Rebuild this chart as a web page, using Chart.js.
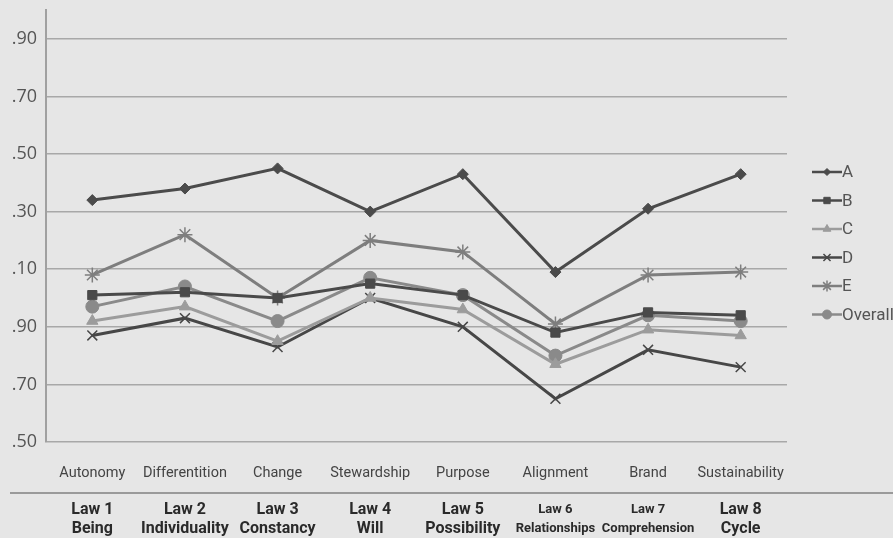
<!DOCTYPE html>
<html>
<head>
<meta charset="utf-8">
<script src="https://cdn.jsdelivr.net/npm/chart.js@4/dist/chart.umd.min.js"></script>
<style>
  html, body { margin: 0; padding: 0; background: #e6e6e6; }
  canvas { display: block; }
</style>
</head>
<body>
<canvas id="c" width="893" height="538"></canvas>
<script>
// Brand laws: attribute names and their law headings
const categories = ['Autonomy', 'Differentition', 'Change', 'Stewardship', 'Purpose', 'Alignment', 'Brand', 'Sustainability'];
const lawLabels = [
  ['Law 1', 'Being'], ['Law 2', 'Individuality'], ['Law 3', 'Constancy'], ['Law 4', 'Will'],
  ['Law 5', 'Possibility'], ['Law 6', 'Relationships'], ['Law 7', 'Comprehension'], ['Law 8', 'Cycle']
];

// Mean scores per group
const seriesA       = [3.34, 3.38, 3.45, 3.30, 3.43, 3.09, 3.31, 3.43];
const seriesB       = [3.01, 3.02, 3.00, 3.05, 3.01, 2.88, 2.95, 2.94];
const seriesC       = [2.92, 2.97, 2.85, 3.00, 2.96, 2.77, 2.89, 2.87];
const seriesD       = [2.87, 2.93, 2.83, 3.00, 2.90, 2.65, 2.82, 2.76];
const seriesE       = [3.08, 3.22, 3.00, 3.20, 3.16, 2.91, 3.08, 3.09];
const seriesOverall = [2.97, 3.04, 2.92, 3.07, 3.01, 2.80, 2.94, 2.92];

// Value-axis ticks
const yTickValues = [2.5, 2.7, 2.9, 3.1, 3.3, 3.5, 3.7, 3.9];

function series(label, data, color, pointStyle, radius, extra) {
  return Object.assign({
    label, data,
    borderColor: color,
    backgroundColor: color,
    pointBackgroundColor: color,
    pointBorderColor: color,
    borderWidth: 3,
    pointStyle,
    pointRadius: radius,
    pointHoverRadius: radius,
    pointBorderWidth: 1,
    tension: 0,
    xAxisID: 'x'
  }, extra || {});
}

const datasets = [
  series('A', seriesA, '#4b4b4b', 'rectRot', 5.5),
  series('B', seriesB, '#4a4a4a', 'rect', 6.5),
  series('C', seriesC, '#9c9c9c', 'triangle', 6.5),
  series('D', seriesD, '#474747', 'crossRot', 7, { pointBorderWidth: 1.5 }),
  series('E', seriesE, '#7e7e7e', 'star', 7.5, { pointBorderWidth: 1.5 }),
  series('Overall', seriesOverall, '#8a8a8a', 'circle', 6.5)
];

// Page background
const backgroundPlugin = {
  id: 'bg',
  beforeDraw(chart) {
    const ctx = chart.ctx;
    ctx.save();
    ctx.fillStyle = '#e6e6e6';
    ctx.fillRect(0, 0, chart.width, chart.height);
    ctx.restore();
  }
};

// Rule between the attribute names and the law headings
const separatorPlugin = {
  id: 'separator',
  afterDraw(chart) {
    const ctx = chart.ctx;
    const x2 = chart.scales.x2;
    ctx.save();
    ctx.strokeStyle = '#9a9a9a';
    ctx.lineWidth = 2;
    ctx.beginPath();
    ctx.moveTo(10, x2.top);
    ctx.lineTo(chart.width, x2.top);
    ctx.stroke();
    ctx.restore();
  }
};

// Legend with a line segment and marker per series
const lineLegendPlugin = {
  id: 'lineLegend',
  afterDraw(chart) {
    const ctx = chart.ctx;
    const x0 = chart.chartArea.right + 25;
    const lineLen = 30;
    const y0 = 172;
    const step = 28.5;
    ctx.save();
    chart.data.datasets.forEach((ds, i) => {
      const y = y0 + i * step;
      ctx.strokeStyle = ds.borderColor;
      ctx.lineWidth = 2.5;
      ctx.beginPath();
      ctx.moveTo(x0, y);
      ctx.lineTo(x0 + lineLen, y);
      ctx.stroke();
      ctx.fillStyle = ds.pointBackgroundColor;
      ctx.strokeStyle = ds.pointBorderColor;
      ctx.lineWidth = ds.pointBorderWidth;
      Chart.helpers.drawPoint(ctx, {
        pointStyle: ds.pointStyle,
        radius: Math.max(3.5, ds.pointRadius - 2),
        rotation: 0,
        borderWidth: ds.pointBorderWidth
      }, x0 + lineLen / 2, y);
      ctx.fillStyle = '#555555';
      ctx.font = '17px Roboto';
      ctx.textAlign = 'left';
      ctx.textBaseline = 'middle';
      ctx.fillText(ds.label, x0 + lineLen, y + 1);
    });
    ctx.restore();
  }
};

new Chart(document.getElementById('c'), {
  type: 'line',
  data: { labels: categories, datasets },
  plugins: [backgroundPlugin, separatorPlugin, lineLegendPlugin],
  options: {
    responsive: false,
    animation: false,
    devicePixelRatio: 1,
    layout: { padding: { top: 0, right: 106, left: 0, bottom: 0 } },
    plugins: {
      legend: { display: false },
      tooltip: { enabled: false }
    },
    scales: {
      y: {
        min: 2.5,
        max: 4.0,
        afterBuildTicks(scale) {
          scale.ticks = yTickValues.map(v => ({ value: v }));
        },
        afterFit(scale) {
          scale.width = 46;
          scale.paddingTop = 10;
        },
        ticks: {
          padding: 9,
          color: '#555555',
          font: { family: 'Open Sans', size: 18 },
          callback: v => Number(v).toFixed(2).slice(1)
        },
        grid: { color: '#a8a8a8', lineWidth: 1.5, drawTicks: false },
        border: { display: true, color: '#a0a0a0', width: 2 }
      },
      x: {
        type: 'category',
        position: 'bottom',
        offset: true,
        weight: 0,
        afterFit(scale) { scale.height = 51; },
        grid: { display: false, drawTicks: false },
        border: { display: false },
        ticks: {
          padding: 23,
          maxRotation: 0,
          autoSkip: false,
          color: '#444444',
          font: { family: 'Roboto', size: 14.5 }
        }
      },
      x2: {
        type: 'category',
        position: 'bottom',
        labels: lawLabels,
        offset: true,
        weight: 1,
        afterFit(scale) { scale.height = 45; },
        grid: { display: false, drawTicks: false },
        border: { display: false },
        ticks: {
          padding: 7,
          maxRotation: 0,
          autoSkip: false,
          color: '#2a2a2a',
          font: ctx => ({
            family: 'Roboto',
            weight: 'bold',
            size: (ctx.index === 5 || ctx.index === 6) ? 13 : 16,
            lineHeight: '19px'
          })
        }
      }
    }
  }
});
</script>
</body>
</html>
